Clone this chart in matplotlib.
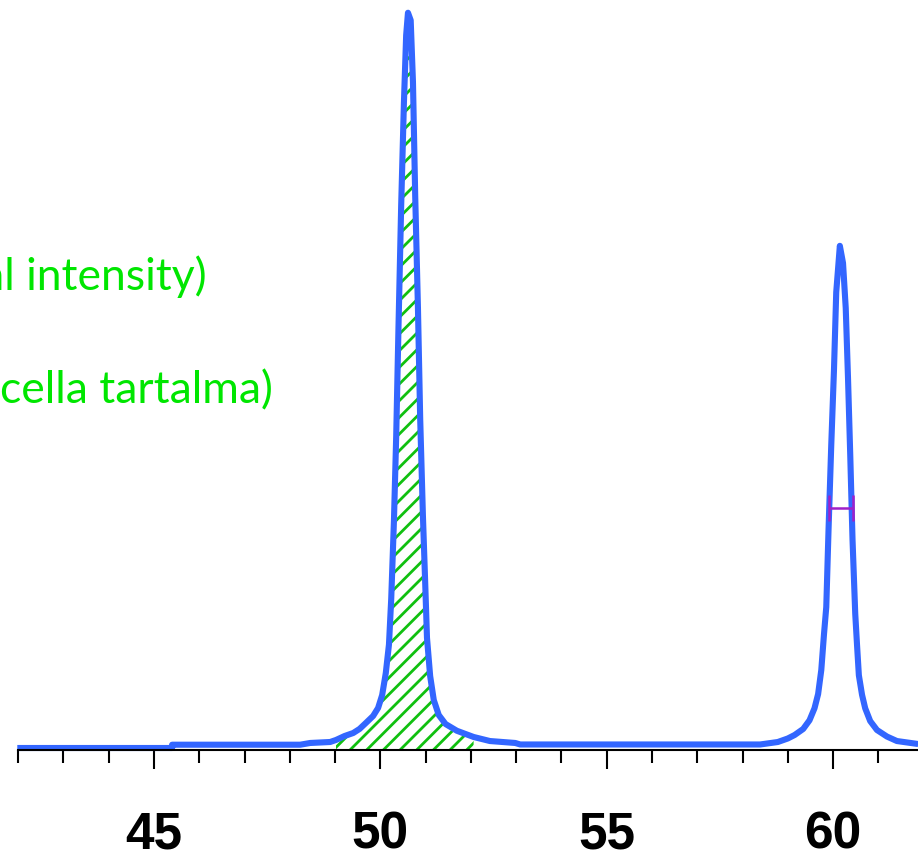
import matplotlib
matplotlib.use("Agg")
import matplotlib.pyplot as plt
from matplotlib.ticker import MultipleLocator

# diffraction profile (2theta, intensity %)
two_theta = [41.98, 45.40, 45.40, 48.23, 48.45, 48.89,
             49.02, 49.21, 49.40, 49.54, 49.68, 49.84, 49.95, 50.04, 50.12,
             50.19, 50.24, 50.30, 50.35, 50.40, 50.46, 50.52, 50.57, 50.61,
             50.67, 50.72, 50.77, 50.83, 50.88, 50.94, 50.99, 51.03, 51.10,
             51.18, 51.29, 51.44, 51.69, 52.06, 52.42, 52.98, 53.09,
             58.39, 58.78, 59.00, 59.15, 59.34, 59.48, 59.59, 59.67, 59.74,
             59.80, 59.85, 59.90, 59.96, 60.02, 60.07, 60.15,
             60.22, 60.28, 60.33, 60.38, 60.43, 60.49, 60.53, 60.57, 60.64,
             60.71, 60.82, 60.97, 61.19, 61.41, 61.88]
intensity = [0.20, 0.20, 0.64, 0.64, 0.87, 1.00,
             1.27, 1.80, 2.20, 2.74, 3.54, 4.47, 5.54, 7.27, 10.2,
             14.0, 20.1, 30.5, 41.8, 56.2, 72.6, 86.2, 95.3, 98.3,
             97.3, 89.1, 73.8, 59.0, 44.1, 31.2, 22.3, 14.9, 9.8,
             6.6, 4.6, 3.4, 2.5, 1.67, 1.13, 0.87, 0.67,
             0.67, 1.00, 1.47, 1.93, 2.74, 3.9, 5.5, 7.4, 10.6,
             15.4, 19.0, 29.3, 40.6, 50.6, 61.0, 67.2,
             64.9, 58.9, 49.6, 39.2, 28.0, 18.1, 13.9, 9.9, 7.3,
             5.5, 3.8, 2.6, 1.73, 1.13, 0.73]

# integration limits of the hatched peak
area_lo, area_hi = 49.0, 52.3

# FWHM marker of the second peak
fwhm_left, fwhm_right, fwhm_level = 59.91, 60.44, 32.2

major_ticks = [45, 50, 55, 60]
line1 = "(integral intensity)"
line2 = "(elemi cella tartalma)"

blue = "#3366ff"
green = "#00e600"

plt.rcParams['hatch.linewidth'] = 2.0
plt.rcParams['hatch.color'] = "#10c010"

fig = plt.figure(figsize=(9.18, 8.58), dpi=100)
ax = fig.add_axes([0, 1 - 749.5 / 858, 1, 749.5 / 858])

sel = [i for i, t in enumerate(two_theta) if area_lo <= t <= area_hi]
ax.fill_between([two_theta[i] for i in sel], [intensity[i] for i in sel], 0,
                facecolor="white", edgecolor="#10c010", hatch="//", linewidth=0)

ax.plot(two_theta, intensity, color=blue, linewidth=4.4,
        solid_joinstyle="round", solid_capstyle="butt", clip_on=False)

fmid = (fwhm_left + fwhm_right) / 2
ax.errorbar([fmid], [fwhm_level], xerr=[(fwhm_right - fwhm_left) / 2],
            fmt="none", ecolor="#a020c8", elinewidth=1.8, capsize=9.5,
            capthick=1.8)

ax.set_xlim(41.598, 41.598 + 918 / 45.27)
ax.set_ylim(0, 100)
for s in ["left", "right", "top"]:
    ax.spines[s].set_visible(False)
ax.spines["bottom"].set_linewidth(1.5)
ax.spines["bottom"].set_bounds(42, 62)
ax.set_yticks([])
ax.xaxis.set_major_locator(MultipleLocator(5))
ax.xaxis.set_minor_locator(MultipleLocator(1))
ax.set_xticks(major_ticks)
ax.set_xticklabels([str(t) for t in major_ticks])
ax.tick_params(axis="x", which="major", direction="out", length=14,
               width=1.5, pad=30, labelsize=37)
ax.tick_params(axis="x", which="minor", direction="out", length=9.5,
               width=1.5)
for lab in ax.get_xticklabels():
    lab.set_fontfamily("Liberation Sans")
    lab.set_fontweight("bold")

fig.text(207 / 918, 1 - 290 / 858, line1, color=green, fontsize=32,
         family="Lato", ha="right", va="baseline")
fig.text(273 / 918, 1 - 403 / 858, line2, color=green, fontsize=32,
         family="Lato", ha="right", va="baseline")

fig.savefig("out.png", dpi=100)
